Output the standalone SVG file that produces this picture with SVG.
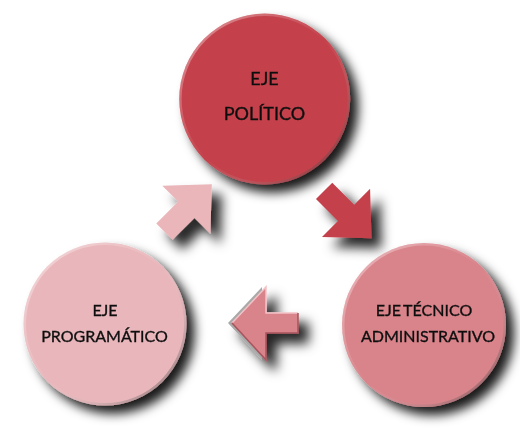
<svg xmlns="http://www.w3.org/2000/svg" width="520" height="433" viewBox="0 0 520 433">
  <defs>
    <filter id="shadow" x="-30%" y="-30%" width="160%" height="160%">
      <feGaussianBlur in="SourceAlpha" stdDeviation="5.5"/>
      <feOffset dx="8" dy="8" result="b"/>
      <feFlood flood-color="#000" flood-opacity="0.9"/>
      <feComposite in2="b" operator="in"/>
      <feMerge><feMergeNode/><feMergeNode in="SourceGraphic"/></feMerge>
    </filter>
    <filter id="ashadow" x="-50%" y="-50%" width="200%" height="200%">
      <feGaussianBlur in="SourceAlpha" stdDeviation="6"/>
      <feOffset dx="10" dy="10" result="b"/>
      <feFlood flood-color="#000" flood-opacity="0.85"/>
      <feComposite in2="b" operator="in"/>
      <feMerge><feMergeNode/><feMergeNode in="SourceGraphic"/></feMerge>
    </filter>
    <linearGradient id="rim" x1="0" y1="0" x2="1" y2="1">
      <stop offset="0" stop-color="#fff" stop-opacity="0.45"/>
      <stop offset="0.5" stop-color="#fff" stop-opacity="0"/>
      <stop offset="1" stop-color="#000" stop-opacity="0.5"/>
    </linearGradient>
    <polygon id="arrow" points="0,0 -36,-34 -36,-11.5 -67,-11.5 -67,11.5 -36,11.5 -36,34"/>
  </defs>
  <style>
    .lbl { font-family: "Lato", "Open Sans", "DejaVu Sans", sans-serif; font-size: 16px; fill: #111; stroke: #111; stroke-width: 0.35; text-anchor: middle; }
    .big { font-size: 18px; }
    .rim { fill: none; stroke: url(#rim); stroke-width: 2.5; }
  </style>
  <rect width="520" height="433" fill="#fff"/>

  <g id="connectors">
    <g id="arrow-politico-tecnico" filter="url(#ashadow)">
      <use href="#arrow" transform="translate(371.5,238.3) rotate(45)" fill="#C4414B"/>
    </g>
    <g id="arrow-tecnico-programatico" filter="url(#ashadow)">
      <polygon points="228,323 262,287 262,313 294,313 294,333 262,333 262,360" fill="#A9A9A9"/>
      <polygon points="232,323 266,287 266,313 298,313 298,333 266,333 266,360" fill="#D9838A"/>
      <polyline points="232,323 266,287 266,313 298,313" fill="none" stroke="#F2C2C6" stroke-width="1.5"/>
      <polyline points="298,313 298,333 266,333 266,360 232,323" fill="none" stroke="#A8545C" stroke-width="1.5"/>
    </g>
    <g id="arrow-programatico-politico" filter="url(#ashadow)">
      <use href="#arrow" transform="translate(211.8,184.3) rotate(-45)" fill="#EAB6BA"/>
    </g>
  </g>

  <g id="node-politico" filter="url(#shadow)">
    <circle cx="264.7" cy="99" r="85.5" fill="#C4414B"/>
    <circle class="rim" cx="264.7" cy="99" r="84.3"/>
    <text class="lbl big" x="264.5" y="85">EJE</text>
    <text class="lbl big" x="264.5" y="120">POLÍTICO</text>
  </g>

  <g id="node-programatico" filter="url(#shadow)">
    <circle cx="105" cy="324" r="81.5" fill="#E9B7BB"/>
    <circle class="rim" cx="105" cy="324" r="80.3"/>
    <text class="lbl" x="105" y="316">EJE</text>
    <text class="lbl" x="104.5" y="342">PROGRAMÁTICO</text>
  </g>

  <g id="node-tecnico" filter="url(#shadow)">
    <circle cx="424" cy="325" r="82" fill="#D9838A"/>
    <circle class="rim" cx="424" cy="325" r="80.8"/>
    <text class="lbl" x="424" y="316" word-spacing="-1.5">EJE TÉCNICO</text>
    <text class="lbl" x="428" y="342">ADMINISTRATIVO</text>
  </g>
</svg>
